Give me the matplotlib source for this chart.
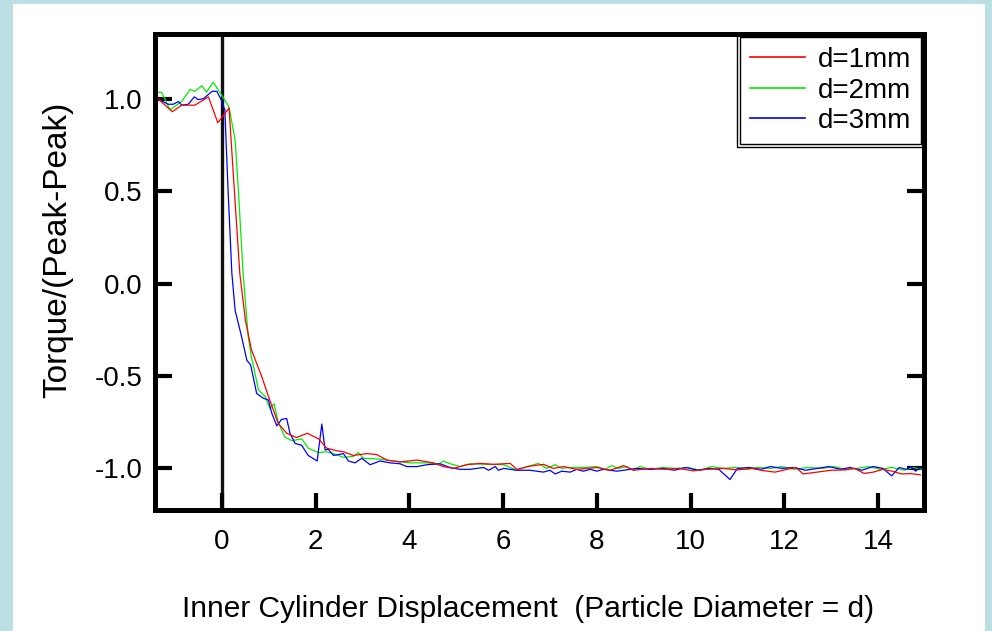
import matplotlib
matplotlib.use("Agg")
import matplotlib.pyplot as plt
from matplotlib.patches import Rectangle

x_1mm = [-1.37, -1.06, -0.86, -0.58, -0.29, -0.09, 0.15, 0.24, 0.38, 0.50, 0.63, 0.85, 0.99,
         1.20, 1.38, 1.59, 1.82, 2.06, 2.23, 2.45, 2.59, 2.80, 3.09, 3.30, 3.52, 3.80, 4.16,
         4.51, 4.72, 4.94, 5.22, 5.51, 5.79, 6.15, 6.29, 6.57, 6.86, 7.07, 7.29, 7.57, 8.00,
         8.28, 8.57, 8.78, 9.14, 9.45, 9.75, 10.05, 10.35, 10.70, 11.00, 11.30, 11.55, 11.80,
         12.06, 12.25, 12.40, 12.70, 13.00, 13.30, 13.50, 13.70, 13.90, 14.10, 14.30, 14.50,
         14.70, 14.90]
y_1mm = [1.00, 0.93, 0.965, 0.965, 1.01, 0.87, 0.95, 0.595, 0.054, -0.20, -0.36, -0.505, -0.61,
         -0.757, -0.81, -0.833, -0.81, -0.84, -0.89, -0.905, -0.91, -0.93, -0.92, -0.925, -0.955,
         -0.965, -0.955, -0.97, -0.99, -1.0, -0.98, -0.973, -0.978, -0.973, -1.005, -0.988,
         -0.978, -1.0, -0.99, -1.005, -0.995, -1.01, -0.985, -1.01, -1.0, -1.005, -1.0, -1.013,
         -1.005, -1.0, -1.008, -1.0, -1.012, -1.02, -1.005, -0.995, -1.03, -1.02, -1.01, -1.008,
         -1.0, -1.027, -1.02, -1.005, -1.015, -1.03, -1.028, -1.035]

x_2mm = [-1.36, -1.29, -1.11, -0.86, -0.68, -0.58, -0.43, -0.33, -0.19, -0.01, 0.15, 0.28, 0.35,
         0.45, 0.56, 0.63, 0.78, 0.92, 1.02, 1.11, 1.20, 1.34, 1.49, 1.70, 1.84, 2.06, 2.23,
         2.38, 2.59, 2.80, 2.91, 3.02, 3.37, 3.66, 4.01, 4.37, 4.65, 4.72, 4.87, 5.08, 5.29,
         5.65, 6.01, 6.29, 6.51, 6.75, 6.93, 7.11, 7.25, 7.43, 7.71, 8.00, 8.17, 8.32, 8.46,
         8.64, 8.78, 8.92, 9.14, 9.40, 9.70, 9.95, 10.20, 10.45, 10.70, 10.95, 11.20, 11.45,
         11.70, 11.95, 12.20, 12.50, 12.80, 13.05, 13.30, 13.55, 13.80, 14.05, 14.30, 14.55,
         14.75, 14.95]
y_2mm = [1.035, 1.035, 0.94, 0.985, 1.05, 1.04, 1.07, 1.035, 1.09, 1.02, 0.955, 0.775, 0.50,
         0.054, -0.29, -0.40, -0.577, -0.61, -0.676, -0.65, -0.75, -0.83, -0.85, -0.84, -0.89,
         -0.915, -0.91, -0.92, -0.94, -0.935, -0.915, -0.945, -0.95, -0.96, -0.97, -0.97,
         -0.975, -0.96, -0.975, -0.99, -0.975, -0.978, -0.98, -1.01, -0.99, -0.973, -1.0, -0.98,
         -1.0, -0.995, -0.995, -0.99, -1.005, -0.985, -1.0, -0.99, -1.01, -0.99, -1.005, -0.995,
         -1.0, -0.995, -1.01, -0.99, -1.0, -0.995, -1.005, -0.995, -1.0, -0.99, -1.005, -0.995,
         -1.0, -0.99, -1.005, -1.0, -0.99, -1.005, -0.995, -1.01, -0.995, -1.005]

x_3mm = [-1.39, -1.15, -1.04, -0.93, -0.86, -0.72, -0.59, -0.51, -0.40, -0.21, -0.11, -0.01, 0.06,
         0.13, 0.21, 0.28, 0.42, 0.53, 0.61, 0.74, 0.88, 0.99, 1.06, 1.17, 1.27, 1.38, 1.45,
         1.56, 1.70, 1.84, 2.03, 2.13, 2.20, 2.27, 2.38, 2.59, 2.70, 2.84, 2.98, 3.16, 3.37,
         3.59, 3.80, 3.94, 4.16, 4.37, 4.65, 4.87, 5.08, 5.29, 5.58, 5.69, 5.83, 5.90, 6.01,
         6.29, 6.57, 6.86, 7.00, 7.11, 7.25, 7.43, 7.57, 7.71, 7.86, 8.00, 8.14, 8.43, 8.71,
         8.85, 9.14, 9.40, 9.65, 9.90, 10.15, 10.40, 10.60, 10.84, 11.00, 11.25, 11.50, 11.70,
         11.95, 12.20, 12.45, 12.70, 12.95, 13.20, 13.40, 13.65, 13.90, 14.10, 14.29, 14.45,
         14.60, 14.70, 14.80, 14.90]
y_3mm = [1.0, 0.97, 0.97, 0.985, 0.965, 0.97, 1.01, 0.995, 1.0, 1.04, 1.04, 0.99, 0.94, 0.50,
         0.056, -0.145, -0.29, -0.415, -0.44, -0.595, -0.62, -0.63, -0.70, -0.77, -0.735, -0.73,
         -0.81, -0.865, -0.875, -0.93, -0.96, -0.76, -0.90, -0.897, -0.93, -0.92, -0.96, -0.97,
         -0.945, -0.98, -0.96, -0.97, -0.975, -0.99, -0.99, -0.98, -0.975, -0.995, -1.005,
         -1.005, -0.995, -1.01, -0.99, -1.01, -1.0, -1.01, -1.01, -1.02, -1.01, -1.03, -1.015,
         -1.02, -1.005, -1.015, -1.005, -1.015, -1.005, -1.015, -1.005, -1.0, -1.005, -1.0,
         -1.01, -0.995, -1.01, -1.0, -1.005, -1.06, -1.0, -0.995, -1.005, -0.99, -1.0, -0.995,
         -1.01, -1.0, -0.99, -1.005, -0.995, -1.01, -0.99, -1.0, -1.04, -0.995, -1.005, -0.99,
         -1.015, -0.995]

x_ticks = [0, 2, 4, 6, 8, 10, 12, 14]
y_ticks = [-1.0, -0.5, 0.0, 0.5, 1.0]

plt.rcParams.update({
    "font.family": ["Liberation Sans", "DejaVu Sans"],
    "font.size": 20,
})

fig = plt.figure(figsize=(9.92, 6.31), dpi=100, facecolor="#bbdfe2")
# white panel inside the cyan border
fig.patches.append(Rectangle((13 / 992, 0), 972 / 992, 627 / 631, transform=fig.transFigure,
                             facecolor="white", edgecolor="none", zorder=-5))
ax = fig.add_axes([155 / 992, 1 - 510 / 631, 769 / 992, 476 / 631])
ax.set_facecolor("white")

l2, = ax.plot(x_2mm, y_2mm, color="#00ee00", lw=0.9, label="d=2mm")
l3, = ax.plot(x_3mm, y_3mm, color="#0000ff", lw=0.9, label="d=3mm")
l1, = ax.plot(x_1mm, y_1mm, color="#ff0000", lw=0.9, label="d=1mm")
ax.axvline(0, color="#111111", lw=2.4, zorder=1)

ax.set_xlim(-1.43, 14.98)
ax.set_ylim(-1.225, 1.35)
ax.set_xticks(x_ticks)
ax.set_yticks(y_ticks)
ax.set_yticklabels([f"{v:.1f}" for v in y_ticks])
for s in ax.spines.values():
    s.set_linewidth(3.6)
ax.tick_params(axis="both", direction="in", length=12, width=3, labelsize=20)
ax.tick_params(axis="y", right=True, pad=9)
ax.tick_params(axis="x", pad=13.5)

ax.set_xlabel("Inner Cylinder Displacement  (Particle Diameter = d)", fontsize=21.5)
ax.xaxis.set_label_coords(373 / 769, -85 / 476)
ax.set_ylabel("Torque/(Peak-Peak)", fontsize=24)
ax.yaxis.set_label_coords(-82 / 769, 260 / 476)

leg = ax.legend(handles=[l1, l2, l3], loc="upper right", fontsize=20, frameon=True,
                fancybox=False, edgecolor="black", framealpha=1.0, borderaxespad=0.12,
                handlelength=2.0, handletextpad=0.45, labelspacing=0.16, borderpad=0.35)
leg.get_frame().set_linewidth(1.0)
for h in leg.legend_handles:
    h.set_linewidth(1.2)

# second (outer) line of the legend frame
fig.canvas.draw()
bb = leg.get_window_extent().transformed(fig.transFigure.inverted())
pad = 3 / 992
fig.patches.append(Rectangle((bb.x0 - pad, bb.y0 - pad * 992 / 631), bb.width + 2 * pad,
                             bb.height + 2 * pad * 992 / 631, transform=fig.transFigure,
                             facecolor="none", edgecolor="black", lw=1.0, zorder=5))

fig.savefig("out.png", dpi=100, facecolor=fig.get_facecolor())
